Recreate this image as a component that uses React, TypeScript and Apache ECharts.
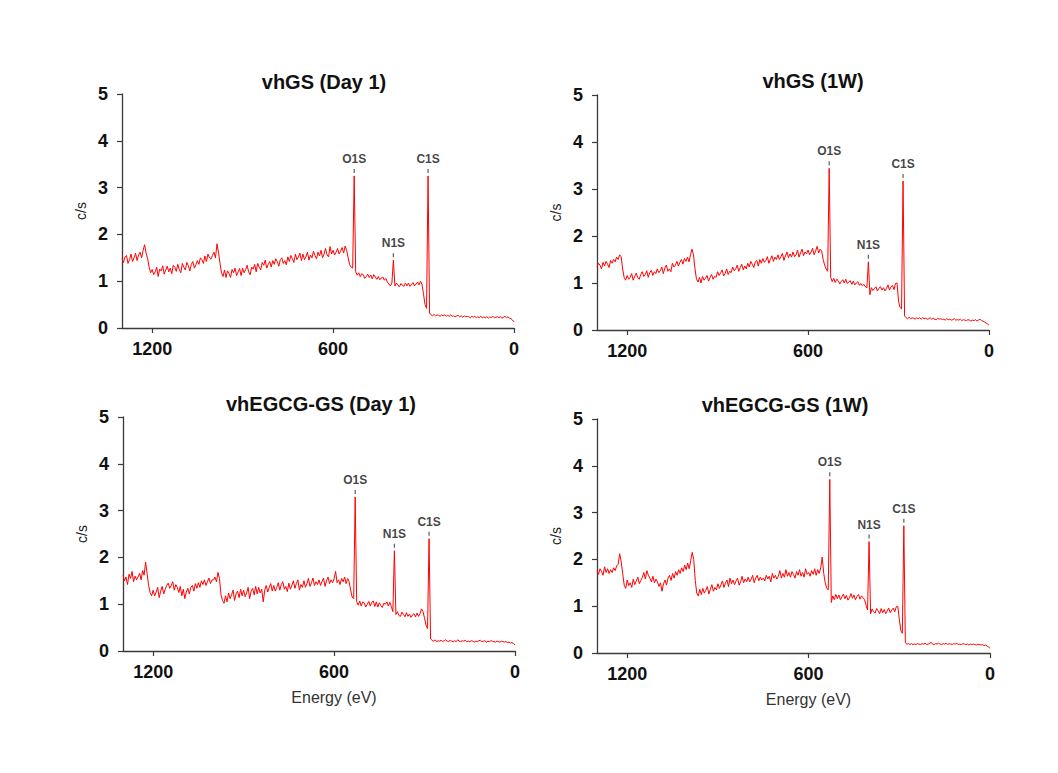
import React, { useEffect, useRef } from "react";
import * as echarts from "echarts";

// Energy grid: 1300 eV down to 0 eV in 5 eV steps (261 points)
const energies: number[] = Array.from({ length: 261 }, (_, i) => 1300 - 5 * i);

const titles = ["vhGS (Day 1)", "vhGS (1W)", "vhEGCG-GS (Day 1)", "vhEGCG-GS (1W)"];
const xTicks = [0, 600, 1200];
const peakNames = ["O1S", "N1S", "C1S"];
const peakEnergies = [530, 400, 285];

// vhGS (Day 1)
const spectrum1: number[] = [
  1.48, 1.40, 1.52, 1.55, 1.38, 1.46, 1.58, 1.42, 1.50, 1.60,
  1.44, 1.56, 1.62, 1.50, 1.66, 1.78, 1.60, 1.48, 1.30, 1.18,
  1.25, 1.14, 1.20, 1.30, 1.10, 1.26, 1.22, 1.33, 1.15, 1.24,
  1.32, 1.20, 1.28, 1.16, 1.34, 1.30, 1.21, 1.36, 1.25, 1.18,
  1.38, 1.30, 1.24, 1.40, 1.33, 1.22, 1.36, 1.42, 1.28, 1.35,
  1.44, 1.36, 1.50, 1.46, 1.38, 1.54, 1.42, 1.58, 1.50, 1.47,
  1.55, 1.62, 1.50, 1.80, 1.62, 1.38, 1.18, 1.10, 1.24, 1.08,
  1.22, 1.16, 1.08, 1.25, 1.18, 1.28, 1.12, 1.20, 1.27, 1.12,
  1.28, 1.18, 1.25, 1.34, 1.20, 1.14, 1.30, 1.26, 1.36, 1.20,
  1.38, 1.30, 1.24, 1.40, 1.34, 1.45, 1.28, 1.36, 1.42, 1.30,
  1.44, 1.36, 1.48, 1.42, 1.32, 1.46, 1.50, 1.38, 1.44, 1.35,
  1.52, 1.42, 1.55, 1.48, 1.40, 1.58, 1.46, 1.52, 1.60, 1.44,
  1.58, 1.46, 1.52, 1.62, 1.45, 1.56, 1.50, 1.64, 1.55, 1.48,
  1.62, 1.54, 1.66, 1.50, 1.58, 1.70, 1.56, 1.52, 1.74, 1.58,
  1.66, 1.56, 1.62, 1.70, 1.58, 1.64, 1.72, 1.60, 1.75, 1.66,
  1.50, 1.35, 1.30, 1.28, 3.25, 1.20, 1.13, 1.18, 1.10, 1.16,
  1.14, 1.06, 1.10, 1.15, 1.08, 1.13, 1.05, 1.14, 1.09, 1.04,
  1.10, 1.03, 1.07, 1.09, 1.02, 1.06, 0.98, 0.94, 0.90, 0.96,
  1.45, 0.90, 0.96, 0.92, 0.88, 0.95, 0.91, 0.89, 0.96, 0.90,
  0.96, 0.89, 0.93, 0.97, 0.90, 0.94, 0.98, 0.92, 1.00, 0.93,
  0.72, 0.50, 0.42, 3.25, 0.32, 0.28, 0.26, 0.29, 0.26, 0.28,
  0.27, 0.25, 0.28, 0.26, 0.28, 0.25, 0.27, 0.25, 0.28, 0.25,
  0.26, 0.24, 0.26, 0.27, 0.24, 0.26, 0.23, 0.26, 0.24, 0.25,
  0.24, 0.22, 0.25, 0.23, 0.25, 0.22, 0.24, 0.22, 0.25, 0.22,
  0.24, 0.22, 0.24, 0.21, 0.24, 0.22, 0.25, 0.22, 0.23, 0.24,
  0.22, 0.24, 0.21, 0.23, 0.25, 0.22, 0.24, 0.21, 0.20, 0.17,
  0.13,
];

// vhGS (1W)
const spectrum2: number[] = [
  1.34, 1.42, 1.38, 1.30, 1.44, 1.36, 1.46, 1.40, 1.33, 1.48,
  1.42, 1.50, 1.45, 1.55, 1.50, 1.60, 1.56, 1.30, 1.12, 1.06,
  1.16, 1.08, 1.12, 1.20, 1.06, 1.14, 1.21, 1.12, 1.08, 1.18,
  1.24, 1.14, 1.18, 1.26, 1.12, 1.22, 1.27, 1.16, 1.24, 1.20,
  1.30, 1.22, 1.26, 1.34, 1.20, 1.32, 1.38, 1.25, 1.30, 1.24,
  1.42, 1.34, 1.38, 1.46, 1.36, 1.44, 1.50, 1.40, 1.52, 1.46,
  1.55, 1.45, 1.60, 1.72, 1.60, 1.30, 1.08, 1.02, 1.12, 1.00,
  1.14, 1.06, 1.10, 1.16, 1.04, 1.12, 1.18, 1.08, 1.14, 1.12,
  1.24, 1.16, 1.22, 1.28, 1.15, 1.20, 1.30, 1.18, 1.25, 1.22,
  1.34, 1.26, 1.30, 1.38, 1.25, 1.33, 1.40, 1.28, 1.36, 1.30,
  1.42, 1.34, 1.46, 1.40, 1.33, 1.45, 1.48, 1.36, 1.50, 1.42,
  1.52, 1.44, 1.48, 1.56, 1.42, 1.50, 1.58, 1.46, 1.55, 1.50,
  1.60, 1.50, 1.56, 1.63, 1.48, 1.58, 1.66, 1.54, 1.62, 1.55,
  1.66, 1.56, 1.60, 1.70, 1.55, 1.64, 1.72, 1.58, 1.66, 1.62,
  1.70, 1.60, 1.66, 1.74, 1.60, 1.68, 1.78, 1.64, 1.72, 1.68,
  1.50, 1.38, 1.30, 1.25, 3.44, 1.12, 1.03, 1.10, 1.01, 1.08,
  1.05, 0.98, 1.03, 1.07, 1.00, 1.08, 0.99, 1.02, 1.05, 0.97,
  1.04, 0.96, 1.00, 1.03, 0.95, 0.99, 0.94, 0.97, 0.92, 0.90,
  1.45, 0.75, 0.90, 0.84, 0.88, 0.92, 0.83, 0.89, 0.92, 0.85,
  0.90, 0.83, 0.88, 0.96, 0.85, 0.92, 0.95, 0.86, 0.99, 1.00,
  0.62, 0.48, 0.45, 3.17, 0.30, 0.26, 0.24, 0.27, 0.24, 0.26,
  0.25, 0.23, 0.26, 0.24, 0.26, 0.23, 0.26, 0.24, 0.25, 0.23,
  0.24, 0.26, 0.23, 0.25, 0.23, 0.22, 0.25, 0.23, 0.24, 0.22,
  0.23, 0.21, 0.24, 0.22, 0.23, 0.21, 0.22, 0.24, 0.21, 0.22,
  0.21, 0.23, 0.20, 0.22, 0.21, 0.20, 0.22, 0.21, 0.19, 0.21,
  0.20, 0.22, 0.19, 0.21, 0.23, 0.20, 0.19, 0.17, 0.15, 0.13,
  0.10,
];

// vhEGCG-GS (Day 1)
const spectrum3: number[] = [
  1.62, 1.50, 1.58, 1.42, 1.64, 1.55, 1.70, 1.48, 1.60, 1.52,
  1.58, 1.66, 1.52, 1.72, 1.62, 1.90, 1.65, 1.40, 1.25, 1.18,
  1.30, 1.18, 1.26, 1.36, 1.14, 1.28, 1.38, 1.22, 1.32, 1.40,
  1.45, 1.34, 1.40, 1.48, 1.30, 1.42, 1.36, 1.25, 1.38, 1.18,
  1.32, 1.12, 1.26, 1.34, 1.22, 1.36, 1.40, 1.28, 1.44, 1.34,
  1.46, 1.36, 1.50, 1.42, 1.52, 1.40, 1.48, 1.56, 1.44, 1.52,
  1.52, 1.58, 1.48, 1.68, 1.55, 1.20, 1.08, 1.02, 1.18, 1.05,
  1.24, 1.12, 1.20, 1.30, 1.08, 1.22, 1.28, 1.14, 1.32, 1.18,
  1.30, 1.16, 1.24, 1.36, 1.12, 1.28, 1.34, 1.20, 1.38, 1.22,
  1.36, 1.24, 1.32, 1.05, 1.30, 1.40, 1.26, 1.36, 1.44, 1.28,
  1.40, 1.28, 1.36, 1.46, 1.30, 1.42, 1.48, 1.32, 1.38, 1.27,
  1.45, 1.32, 1.40, 1.50, 1.34, 1.44, 1.52, 1.30, 1.42, 1.36,
  1.50, 1.36, 1.44, 1.55, 1.38, 1.46, 1.56, 1.40, 1.48, 1.42,
  1.52, 1.40, 1.48, 1.56, 1.38, 1.50, 1.58, 1.44, 1.52, 1.46,
  1.54, 1.70, 1.46, 1.52, 1.42, 1.55, 1.48, 1.58, 1.44, 1.55,
  1.48, 1.30, 1.15, 1.12, 3.29, 1.05, 0.98, 1.07, 0.96, 1.05,
  1.03, 0.94, 1.00, 1.06, 0.96, 1.04, 1.07, 0.95, 1.05, 0.94,
  1.03, 0.97, 0.93, 1.02, 1.00, 1.05, 0.96, 1.04, 0.95, 0.84,
  2.14, 0.78, 0.84, 0.76, 0.74, 0.83, 0.78, 0.73, 0.82, 0.74,
  0.79, 0.72, 0.77, 0.80, 0.73, 0.81, 0.74, 0.80, 0.90, 0.84,
  0.70, 0.55, 0.48, 2.40, 0.26, 0.23, 0.21, 0.24, 0.20, 0.22,
  0.21, 0.23, 0.20, 0.22, 0.24, 0.21, 0.20, 0.23, 0.21, 0.20,
  0.22, 0.20, 0.24, 0.21, 0.20, 0.22, 0.21, 0.23, 0.20, 0.21,
  0.20, 0.22, 0.21, 0.19, 0.21, 0.20, 0.22, 0.23, 0.20, 0.21,
  0.22, 0.19, 0.21, 0.20, 0.22, 0.21, 0.20, 0.19, 0.21, 0.20,
  0.19, 0.21, 0.20, 0.19, 0.20, 0.18, 0.19, 0.17, 0.18, 0.16,
  0.13,
];

// vhEGCG-GS (1W)
const spectrum4: number[] = [
  1.76, 1.68, 1.80, 1.74, 1.66, 1.84, 1.72, 1.80, 1.70, 1.78,
  1.72, 1.82, 1.76, 1.86, 1.90, 2.12, 1.95, 1.70, 1.45, 1.38,
  1.56, 1.44, 1.50, 1.40, 1.58, 1.46, 1.54, 1.62, 1.48, 1.55,
  1.62, 1.72, 1.58, 1.76, 1.66, 1.60, 1.52, 1.64, 1.50, 1.58,
  1.52, 1.42, 1.50, 1.32, 1.48, 1.56, 1.45, 1.60, 1.66, 1.55,
  1.70, 1.60, 1.74, 1.66, 1.78, 1.70, 1.82, 1.74, 1.88, 1.78,
  1.92, 1.80, 1.98, 2.15, 2.00, 1.55, 1.28, 1.22, 1.36, 1.25,
  1.38, 1.28, 1.34, 1.42, 1.26, 1.36, 1.46, 1.32, 1.40, 1.35,
  1.48, 1.38, 1.46, 1.54, 1.40, 1.50, 1.56, 1.42, 1.60, 1.48,
  1.56, 1.46, 1.54, 1.60, 1.45, 1.52, 1.64, 1.50, 1.58, 1.52,
  1.62, 1.52, 1.58, 1.66, 1.50, 1.60, 1.66, 1.54, 1.62, 1.56,
  1.60, 1.54, 1.66, 1.58, 1.64, 1.52, 1.70, 1.60, 1.66, 1.58,
  1.64, 1.76, 1.60, 1.70, 1.62, 1.78, 1.64, 1.72, 1.62, 1.74,
  1.68, 1.60, 1.74, 1.66, 1.78, 1.64, 1.72, 1.62, 1.80, 1.68,
  1.72, 1.64, 1.76, 1.68, 1.80, 1.66, 1.78, 1.70, 1.82, 2.05,
  1.70, 1.50, 1.38, 1.35, 3.71, 1.08, 1.22, 1.14, 1.25, 1.16,
  1.24, 1.14, 1.20, 1.26, 1.16, 1.23, 1.13, 1.18, 1.27, 1.17,
  1.24, 1.14, 1.21, 1.25, 1.15, 1.22, 1.18, 1.14, 1.02, 0.92,
  2.38, 0.84, 0.94, 0.88, 0.85, 0.95, 0.90, 0.84, 0.95, 0.86,
  0.93, 0.84, 0.90, 0.96, 0.86, 0.92, 0.96, 0.88, 0.99, 1.00,
  0.72, 0.48, 0.42, 2.72, 0.22, 0.19, 0.20, 0.18, 0.20, 0.18,
  0.19, 0.18, 0.20, 0.19, 0.18, 0.20, 0.19, 0.21, 0.18, 0.19,
  0.20, 0.23, 0.19, 0.18, 0.20, 0.19, 0.21, 0.19, 0.18, 0.20,
  0.19, 0.21, 0.18, 0.20, 0.19, 0.18, 0.20, 0.19, 0.21, 0.18,
  0.19, 0.18, 0.20, 0.19, 0.18, 0.19, 0.17, 0.19, 0.18, 0.19,
  0.18, 0.17, 0.19, 0.18, 0.17, 0.18, 0.16, 0.17, 0.15, 0.13,
  0.10,
];

const spectra = [spectrum1, spectrum2, spectrum3, spectrum4];

// Peak heights (c/s) for O1S, N1S, C1S in each panel
const peakHeights1 = [3.25, 1.45, 3.25];
const peakHeights2 = [3.44, 1.45, 3.17];
const peakHeights3 = [3.29, 2.14, 2.40];
const peakHeights4 = [3.71, 2.38, 2.72];
const peakHeights = [peakHeights1, peakHeights2, peakHeights3, peakHeights4];

const FONT = "'Liberation Sans', Arial, Helvetica, sans-serif";

const grids = [
  { left: 122, top: 94, width: 392, height: 234 },
  { left: 597, top: 95, width: 392, height: 235 },
  { left: 123, top: 417, width: 392, height: 234 },
  { left: 597, top: 419, width: 393, height: 234 },
];
const titlePos = [
  { x: 324, y: 72 },
  { x: 813, y: 71 },
  { x: 321, y: 394 },
  { x: 785, y: 395 },
];

export default function App() {
  const ref = useRef<HTMLDivElement>(null);
  useEffect(() => {
    if (!ref.current) return;
    const chart = echarts.init(ref.current, undefined, { renderer: "svg" });
    const axisColor = "#3a3a3a";
    const option: any = {
      animation: false,
      backgroundColor: "#ffffff",
      title: titles.map((t, i) => ({
        text: t,
        left: titlePos[i].x,
        top: titlePos[i].y,
        textAlign: "center",
        padding: 0,
        textStyle: { fontSize: 20, fontWeight: "bold", color: "#111", fontFamily: FONT },
      })),
      grid: grids.map((g) => ({ ...g, containLabel: false })),
      xAxis: grids.map((_, i) => ({
        type: "value",
        gridIndex: i,
        min: 0,
        max: 1300,
        inverse: true,
        name: i >= 2 ? "Energy (eV)" : "",
        nameLocation: "middle",
        nameGap: 38,
        nameTextStyle: { fontSize: 16, color: "#333", fontFamily: FONT, padding: [0, 0, 0, 30] },
        splitLine: { show: false },
        axisLine: { onZero: false, lineStyle: { color: axisColor, width: 1.3 } },
        axisTick: { length: 5, customValues: xTicks, lineStyle: { color: axisColor, width: 1.2 } },
        axisLabel: {
          customValues: xTicks,
          formatter: (v: number) => String(v),
          margin: 12,
          fontSize: 18,
          fontWeight: "bold",
          color: "#111",
          fontFamily: FONT,
        },
      })),
      yAxis: grids.map((_, i) => ({
        type: "value",
        gridIndex: i,
        min: 0,
        max: 5,
        interval: 1,
        name: "c/s",
        nameLocation: "middle",
        nameRotate: 90,
        nameGap: 34,
        nameTextStyle: { fontSize: 14, color: "#222", fontFamily: FONT },
        splitLine: { show: false },
        axisLine: { show: true, onZero: false, lineStyle: { color: axisColor, width: 1.3 } },
        axisTick: { show: true, length: 5, lineStyle: { color: axisColor, width: 1.2 } },
        axisLabel: { margin: 14, fontSize: 18, fontWeight: "bold", color: "#111", fontFamily: FONT },
      })),
      series: [
        ...spectra.map((s, i) => ({
          type: "line",
          xAxisIndex: i,
          yAxisIndex: i,
          data: energies.map((e, k) => [e, s[k]]),
          showSymbol: false,
          symbol: "none",
          silent: true,
          lineStyle: { color: "#ff0000", width: 1 },
          z: 2,
        })),
        ...peakHeights.map((h, i) => ({
          type: "scatter",
          xAxisIndex: i,
          yAxisIndex: i,
          data: peakNames.map((n, k) => ({ name: n, value: [peakEnergies[k], h[k]] })),
          symbol: "rect",
          symbolSize: [1.2, 4],
          symbolOffset: [0, -5],
          itemStyle: { color: "#333" },
          silent: true,
          label: {
            show: true,
            formatter: "{b}",
            position: "top",
            distance: 4,
            fontSize: 12,
            fontWeight: "bold",
            color: "#111",
            fontFamily: FONT,
          },
          z: 3,
        })),
      ],
    };
    chart.setOption(option);
    return () => chart.dispose();
  }, []);
  return (
    <div
      ref={ref}
      style={{ position: "fixed", left: 0, top: 0, width: 1058, height: 773, background: "#fff" }}
    />
  );
}
